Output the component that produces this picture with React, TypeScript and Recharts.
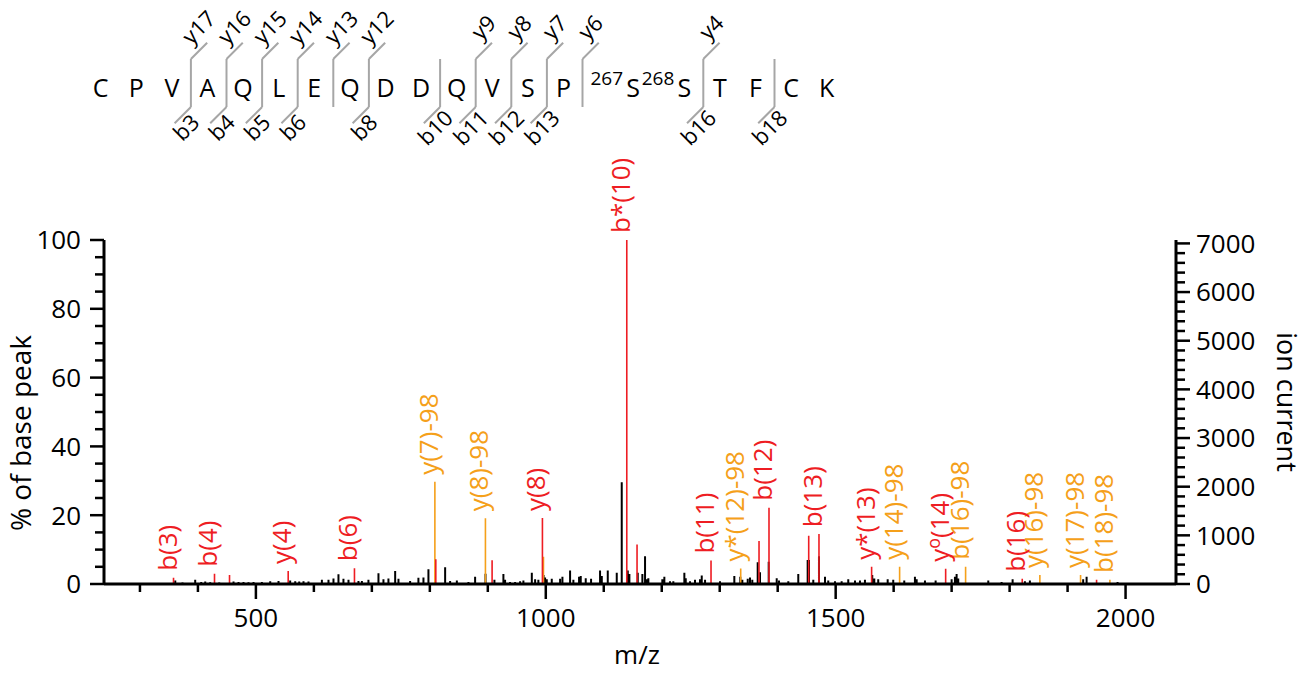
import React from 'react';
import { LineChart, Line, XAxis, YAxis, LabelList } from 'recharts';

const FONT = '"Open Sans", "DejaVu Sans", sans-serif';
const RED = '#ee1d23';
const ORANGE = '#f5a01a';
const GREY = '#a6a6a6';

type Peak = [number, number, string?];

// peptide + fragment coverage
const RESIDUES = ['C', 'P', 'V', 'A', 'Q', 'L', 'E', 'Q', 'D', 'D', 'Q', 'V', 'S', 'P', 'S', 'S', 'T', 'F', 'C', 'K'];
const SITES: Record<number, string> = { 14: '267', 15: '268' };
const B_IONS = [3, 4, 5, 6, 8, 10, 11, 12, 13, 16, 18];
const Y_IONS = [17, 16, 15, 14, 13, 12, 9, 8, 7, 6, 4];

// unassigned peaks (m/z, % of base peak)
const BLACK_PEAKS: Peak[] = [
  [360.9, 1.0], [373.4, 0.4], [395.3, 1.2], [405.7, 0.6], [412.6, 0.7], [421.2, 0.5], [436.7, 0.4],
  [461.4, 0.7], [470, 0.6], [478.6, 0.6], [487.2, 0.5], [495.9, 0.6], [510.3, 0.6], [524.7, 0.8],
  [539, 0.9], [559.1, 1.0], [567.8, 0.8], [574.7, 0.7], [582.1, 0.8], [590.7, 0.7], [613.8, 1.2],
  [625.2, 1.2], [633.8, 1.6], [642.4, 2.8], [651, 1.5], [659.7, 1.2], [676.9, 0.9], [682.8, 0.9],
  [694.1, 1.2], [711.4, 3.1], [720, 1.4], [728.6, 1.6], [740.2, 3.8], [745.9, 1.5], [766, 0.9],
  [780.3, 1.8], [789, 1.9], [797.6, 4.3], [826.4, 4.9], [835, 0.9],
  [846.6, 1.0], [866.6, 0.6], [878.1, 2.1], [896, 3.0], [911.4, 1.2], [926.9, 2.9], [929.8, 1.2],
  [938.4, 0.6], [947.1, 0.6], [955.7, 0.8], [961.4, 1.0], [975.9, 3.3], [981.6, 1.4], [987.2, 1.2],
  [996.2, 2.6], [998.8, 1.9], [1001.7, 1.4], [1010.3, 1.5], [1024.7, 1.5], [1028.7, 2.1], [1041.9, 3.9],
  [1047.6, 1.2], [1057.4, 2.1], [1060.3, 2.3], [1068.9, 1.7], [1078.1, 1.5], [1093.6, 3.9], [1096.6, 2.3],
  [1106.9, 3.9], [1122.4, 3.3], [1131, 29.6], [1141.4, 3.9], [1144.2, 2.9], [1158.6, 3.3], [1166.6, 2.9],
  [1171.2, 8.1], [1174.1, 1.4], [1176.9, 1.7], [1201, 1.4], [1204.5, 2.1], [1214.3, 0.8], [1220, 0.8],
  [1239, 3.3], [1241.4, 1.7], [1248.8, 0.8], [1257.4, 1.2], [1266, 1.4], [1269, 2.5], [1274.7, 1.2],
  [1300.5, 0.8], [1325.2, 2.3], [1335.5, 2.1], [1339, 1.2], [1348.3, 1.5], [1352.2, 1.9], [1356.2, 1.2],
  [1365.5, 6.3], [1369.5, 3.4], [1384.5, 6.5], [1398.3, 1.7], [1402.2, 1.0], [1418.3, 0.8], [1435.5, 2.9],
  [1451.7, 7.0], [1454, 7.0], [1461.4, 1.2],
  [1471.2, 8.1], [1481.6, 2.1], [1487.2, 1.0], [1498.8, 0.8], [1510.3, 0.8], [1521.7, 1.4], [1533.3, 1.0],
  [1541.9, 1.0], [1550.5, 1.2], [1563.1, 2.6], [1566.6, 1.6], [1573.4, 1.4], [1589.7, 1.4], [1599.3, 1.2],
  [1618.3, 1.0], [1636.7, 2.1], [1639.7, 1.4], [1654, 1.0], [1672.4, 1.0], [1700, 1.4], [1705.7, 2.1],
  [1708.6, 2.9], [1711.4, 1.6], [1763.2, 1.0], [1786.2, 0.6], [1805.2, 1.4], [1826.4, 0.8], [1835, 1.0],
  [1926.9, 1.4], [1932.8, 2.1], [1986.2, 0.6],
];

// b / y ions
const RED_PEAKS: Peak[] = [
  [357.9, 1.8, 'b(3)'], [428.6, 3.0, 'b(4)'], [454.5, 2.6], [555.7, 3.8, 'y(4)'], [670.0, 4.6, 'b(6)'],
  [810.3, 7.2], [907.4, 6.9], [994.2, 19.2, 'y(8)'], [1139.7, 100, 'b*(10)'], [1157.4, 11.5],
  [1285.0, 6.8, 'b(11)'], [1367.8, 12.5], [1385.0, 22.2, 'b(12)'], [1453.5, 14.0], [1471.2, 14.5, 'b(13)'],
  [1562.0, 5.0, 'y*(13)'], [1689.7, 4.4, 'y°(14)'], [1821.8, 1.5, 'b(16)'], [1950.0, 1.2],
];

// neutral loss (-98) ions
const ORANGE_PEAKS: Peak[] = [
  [808.7, 29.7, 'y(7)-98'], [895.9, 19.1, 'y(8)-98'], [996.0, 7.9], [1336.2, 4.5, 'y*(12)-98'],
  [1610.3, 5.0, 'y(14)-98'], [1724.1, 5.0, 'b(16)-98'], [1852.2, 2.6, 'y(16)-98'],
  [1922.4, 2.6, 'y(17)-98'], [1973.0, 1.2, 'b(18)-98'],
];

const range = (a: number, b: number, s: number) => Array.from({ length: Math.round((b - a) / s) + 1 }, (_, i) => a + i * s);
const X_TICKS = range(300, 2000, 100);
const PCT_TICKS = range(0, 100, 5);
const ION_TICKS = range(0, 7000, 200);

// each peak -> a vertical stick, broken by a null point
const sticks = (peaks: Peak[]) =>
  peaks.flatMap(([mz, v, label]) => [{ mz, v: 0 }, { mz, v, label }, { mz, v: null }]);

const xTick = (p: any) => {
  const { x, y, payload } = p;
  const major = payload.value % 500 === 0;
  return (
    <g>
      <line x1={x} x2={x} y1={y} y2={y + (major ? 15 : 8)} stroke="#000" strokeWidth={2.5} />
      {major && (
        <text x={x} y={y + 43} textAnchor="middle" fontSize={26} fontFamily={FONT} fill="#000">
          {payload.value}
        </text>
      )}
    </g>
  );
};

const pctTick = (p: any) => {
  const { x, y, payload } = p;
  const major = payload.value % 20 === 0;
  return (
    <g>
      <line x1={x} x2={x - (major ? 14 : 9)} y1={y} y2={y} stroke="#000" strokeWidth={2.5} />
      {major && (
        <text x={x - 23} y={y} dy="0.36em" textAnchor="end" fontSize={26} fontFamily={FONT} fill="#000">
          {payload.value}
        </text>
      )}
    </g>
  );
};

const ionTick = (p: any) => {
  const { x, y, payload } = p;
  const major = payload.value % 1000 === 0;
  return (
    <g>
      <line x1={x} x2={x + (major ? 14 : 9)} y1={y} y2={y} stroke="#000" strokeWidth={2.5} />
      {major && (
        <text x={x + 20} y={y} dy="0.36em" textAnchor="start" fontSize={26} fontFamily={FONT} fill="#000">
          {payload.value}
        </text>
      )}
    </g>
  );
};

const peakLabel = (color: string) => (props: any) => {
  const { value } = props;
  if (!value) return null;
  const px = props.x ?? props.viewBox?.x;
  const py = props.y ?? props.viewBox?.y;
  if (px == null || py == null) return null;
  const tx = px + 3;
  const ty = py - 7;
  const parts = String(value).split('°');
  return (
    <text x={tx} y={ty} transform={`rotate(-90 ${tx} ${ty})`} fill={color} fontSize={26} fontFamily={FONT} textAnchor="start">
      {parts.length > 1 ? (
        <>
          {parts[0]}
          <tspan dy={-9} fontSize={18}>o</tspan>
          <tspan dy={9}>{parts[1]}</tspan>
        </>
      ) : (
        value
      )}
    </text>
  );
};

function Sequence() {
  const step = 35.6;
  const siteGap: Record<number, number> = { 14: 34, 15: 15.6 };
  const centers: number[] = [];
  let cx = 100.7;
  RESIDUES.forEach((_, i) => {
    if (i > 0) cx += step + (siteGap[i] ?? 0);
    centers.push(cx);
  });
  const n = RESIDUES.length;
  const cuts = new Set<number>([...B_IONS, ...Y_IONS.map((k) => n - k)]);
  const cutX = (c: number) => centers[c - 1] + 19;
  const top = 59;
  const bottom = 107;
  return (
    <g fontFamily={FONT}>
      {RESIDUES.map((r, i) => (
        <g key={i}>
          {SITES[i] && (
            <text x={centers[i] - 10} y={85} textAnchor="end" fontSize={19} fill="#000">
              {SITES[i]}
            </text>
          )}
          <text x={centers[i]} y={97} textAnchor="middle" fontSize={25} fill="#000">
            {r}
          </text>
        </g>
      ))}
      {[...cuts].map((c) => (
        <line key={`v${c}`} x1={cutX(c)} x2={cutX(c)} y1={top} y2={bottom} stroke={GREY} strokeWidth={2} />
      ))}
      {Y_IONS.map((k) => {
        const mx = cutX(n - k);
        return (
          <g key={`y${k}`} transform={`translate(${mx},${top}) rotate(-45)`}>
            <line x1={0} y1={0} x2={23} y2={0} stroke={GREY} strokeWidth={2} />
            <text x={28} y={-9} textAnchor="middle" fontSize={22} fill="#000">{`y${k}`}</text>
          </g>
        );
      })}
      {B_IONS.map((k) => {
        const mx = cutX(k);
        return (
          <g key={`b${k}`} transform={`translate(${mx},${bottom}) rotate(-45)`}>
            <line x1={0} y1={0} x2={-23} y2={0} stroke={GREY} strokeWidth={2} />
            <text x={-18} y={19} textAnchor="middle" fontSize={22} fill="#000">{`b${k}`}</text>
          </g>
        );
      })}
    </g>
  );
}

export default function App() {
  return (
    <div style={{ position: 'absolute', left: 0, top: 0, width: 1308, height: 674, background: '#fff' }}>
      <LineChart width={1308} height={674} margin={{ top: 240, right: 52, bottom: 60, left: 44 }}>
        <XAxis
          type="number"
          dataKey="mz"
          domain={[238, 2087]}
          allowDataOverflow
          ticks={X_TICKS}
          interval={0}
          tick={xTick}
          tickLine={false}
          tickSize={0}
          tickMargin={0}
          height={30}
          axisLine={{ stroke: '#000', strokeWidth: 3 }}
        />
        <YAxis
          yAxisId="pct"
          type="number"
          domain={[0, 100]}
          allowDataOverflow
          ticks={PCT_TICKS}
          interval={0}
          tick={pctTick}
          tickLine={false}
          tickSize={0}
          tickMargin={0}
          width={60}
          axisLine={{ stroke: '#000', strokeWidth: 3 }}
        />
        <YAxis
          yAxisId="ion"
          orientation="right"
          type="number"
          domain={[0, 7070]}
          allowDataOverflow
          ticks={ION_TICKS}
          interval={0}
          tick={ionTick}
          tickLine={false}
          tickSize={0}
          tickMargin={0}
          width={80}
          axisLine={{ stroke: '#000', strokeWidth: 3 }}
        />
        <Line yAxisId="pct" data={sticks(BLACK_PEAKS)} dataKey="v" type="linear" stroke="#000" strokeWidth={2} dot={false} activeDot={false} isAnimationActive={false} />
        <Line yAxisId="pct" data={sticks(ORANGE_PEAKS)} dataKey="v" type="linear" stroke={ORANGE} strokeWidth={1.6} dot={false} activeDot={false} isAnimationActive={false}>
          <LabelList dataKey="label" content={peakLabel(ORANGE)} />
        </Line>
        <Line yAxisId="pct" data={sticks(RED_PEAKS)} dataKey="v" type="linear" stroke={RED} strokeWidth={1.6} dot={false} activeDot={false} isAnimationActive={false}>
          <LabelList dataKey="label" content={peakLabel(RED)} />
        </Line>
      </LineChart>
      <svg width={1308} height={674} style={{ position: 'absolute', left: 0, top: 0, pointerEvents: 'none' }}>
        <Sequence />
        <text x={31} y={433} transform="rotate(-90 31 433)" textAnchor="middle" fontSize={28} fontFamily={FONT} fill="#000">
          % of base peak
        </text>
        <text x={1277} y={402} transform="rotate(90 1277 402)" textAnchor="middle" fontSize={27} fontFamily={FONT} fill="#000">
          ion current
        </text>
        <text x={637} y={664} textAnchor="middle" fontSize={26} fontFamily={FONT} fill="#000">
          m/z
        </text>
      </svg>
    </div>
  );
}
